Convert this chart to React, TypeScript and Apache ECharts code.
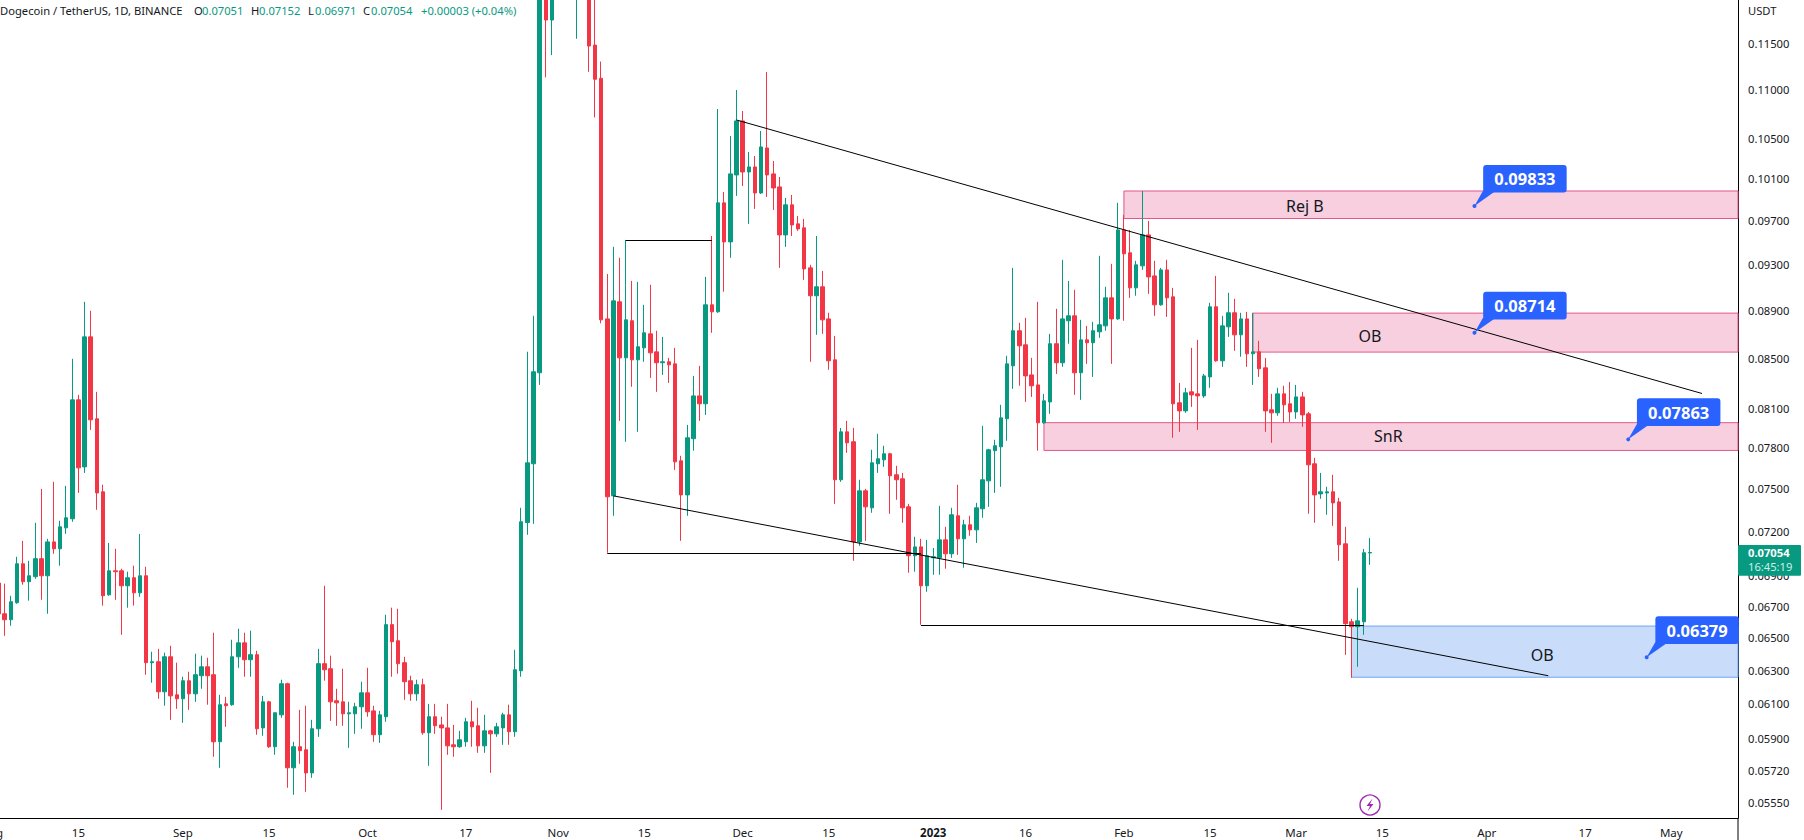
import React, { useEffect, useRef } from "react";
import * as echarts from "echarts";

// rows: [open, high, low, close]
const aug22 = [
[.0685,.0690,.0661,.0665],[.06651,.06846,.06512,.06613],[.06613,.06767,.06575,.06728],[.06722,.07025,.06715,.06978],
[.06978,.07133,.06839,.06859],[.06859,.06998,.06735,.06898],[.06892,.07258,.06878,.07012],[.07012,.07498,.06741,.06898],
[.06898,.07147,.06651,.07126],[.07126,.07549,.07045,.07079],[.07079,.07272,.06965,.07230],[.07223,.07520,.07181,.07293],
[.07286,.08495,.07265,.08167],[.08167,.08206,.07469,.07651],[.07658,.08973,.07614,.08676],[.08676,.08896,.07935,.08012],
[.08020,.08230,.07349,.07469],[.07477,.07528,.06703,.06767],[.06773,.07119,.06767,.06931],[.06931,.07079,.06741,.06925],
[.06931,.06945,.06518,.06832],[.06832,.06925,.06690,.06885],[.06885,.06965,.06703,.06786],[.06786,.07181,.06760,.06898],
[.06898,.06958,.06273,.06346],[.06346,.06413,.06225,.06352],[.06352,.06431,.06130,.06171],[.06171,.06407,.06089,.06382],
[.06382,.06450,.06007,.06147],[.06153,.06346,.06071,.06130],
];
const sep22 = [
[.06130,.06261,.05990,.06237],[.06237,.06291,.06065,.06159],[.06159,.06401,.06112,.06273],[.06267,.06389,.06189,.06321],
[.06321,.06376,.06095,.06267],[.06273,.06531,.05798,.05882],[.05882,.06153,.05737,.06095],[.06100,.06141,.05967,.06089],
[.06095,.06487,.06089,.06382],[.06382,.06556,.06315,.06468],[.06468,.06531,.06261,.06364],[.06364,.06544,.06261,.06395],
[.06395,.06419,.05922,.05956],[.05961,.06147,.05916,.06112],[.06112,.06118,.05848,.05854],[.05854,.06048,.05809,.06048],
[.06036,.06243,.06019,.06219],[.06219,.06225,.05628,.05737],[.05737,.05882,.05590,.05854],[.05854,.06065,.05759,.05832],
[.05837,.06089,.05606,.05709],[.05709,.06007,.05682,.05956],[.05956,.06431,.05910,.06340],[.06340,.06832,.06237,.06303],
[.06309,.06389,.06001,.06112],[.06118,.06189,.05973,.06106],[.06112,.06309,.05973,.06042],[.06042,.06112,.05848,.06048],
[.06042,.06106,.05927,.06083],[.06083,.06231,.05956,.06165],
];
const oct22 = [
[.06165,.06315,.06025,.06054],[.06059,.06089,.05882,.05922],[.05922,.06059,.05876,.06036],[.06025,.06645,.05996,.06582],
[.06582,.06690,.06261,.06475],[.06481,.06683,.06279,.06340],[.06346,.06382,.06124,.06231],[.06237,.06267,.06118,.06159],
[.06159,.06243,.06118,.06213],[.06213,.06249,.05922,.05933],[.05933,.06100,.05748,.06025],[.06025,.06100,.05927,.05973],
[.05978,.06025,.05510,.05961],[.05961,.06100,.05809,.05859],[.05865,.05978,.05798,.05854],[.05854,.05944,.05848,.05893],
[.05882,.06019,.05854,.05996],[.05996,.06118,.05854,.05967],[.05973,.06077,.05820,.05859],[.05859,.06036,.05820,.05944],
[.05944,.05950,.05709,.05927],[.05927,.05990,.05910,.05967],[.05961,.06048,.05865,.06036],[.06036,.06095,.05865,.05939],
[.05939,.06425,.05910,.06303],[.06297,.07363,.06261,.07265],[.07260,.08553,.07175,.07688],[.07681,.08853,.07251,.08390],
[.08382,.1330,.08285,.1262],[.1262,.1290,.1113,.1176],[.1176,.1350,.1137,.1300],
];
const nov22 = [
[.1300,.1330,.1230,.1260],[.1260,.1290,.1215,.1240],[.1240,.1320,.1225,.1300],[.1300,.1400,.1155,.1370],
[.1370,.1390,.1230,.1300],[.1300,.1320,.1119,.1147],[.1148,.1210,.1071,.1111],[.1112,.1130,.0879,.08819],
[.08827,.09216,.07052,.07441],[.07448,.09459,.07307,.08981],[.08973,.09360,.08004,.08503],[.08503,.09522,.07845,.08819],
[.08811,.09155,.08270,.08487],[.08487,.09146,.07920,.08594],[.08585,.08947,.08471,.08710],[.08701,.09120,.08341,.08544],
[.08552,.08727,.08230,.08463],[.08463,.08676,.08365,.08471],[.08471,.08503,.08301,.08446],[.08454,.08585,.07636,.07695],
[.07703,.07740,.07133,.07455],[.07455,.07973,.07307,.07875],[.07868,.08357,.07778,.08198],[.08198,.08438,.08004,.08136],
[.08136,.09190,.08050,.08947],[.08947,.09558,.08710,.08887],[.08887,.10797,.08879,.09867],[.09867,.09971,.09060,.09504],
[.09504,.10521,.09360,.10145],[.10135,.10996,.09933,.10674],
];
const dec22 = [
[.10674,.10777,.10028,.10164],[.10164,.10361,.09670,.10213],[.10213,.10321,.09810,.09961],[.09961,.10572,.09952,.10411],
[.10401,.11188,.09923,.10135],[.10145,.10272,.09800,.10009],[.10019,.10115,.09270,.09568],[.09568,.09914,.09459,.09848],
[.09848,.09942,.09558,.09660],[.09670,.09744,.09605,.09623],[.09633,.09716,.09164,.09261],[.09270,.09297,.08471,.09025],
[.09025,.09558,.08693,.09103],[.09103,.09243,.08701,.08819],[.08827,.08879,.08406,.08479],[.08487,.08684,.07391,.07564],
[.07564,.07950,.07549,.07920],[.07920,.08004,.07762,.07837],[.07845,.07950,.06998,.07126],[.07126,.07564,.07099,.07484],
[.07484,.07498,.07133,.07370],[.07363,.07785,.07328,.07688],[.07681,.07905,.07614,.07718],[.07710,.07815,.07658,.07755],
[.07755,.07762,.07321,.07593],[.07600,.07666,.07420,.07564],[.07571,.07614,.07258,.07363],[.07370,.07391,.06918,.07032],
[.07032,.07161,.06925,.07092],[.07092,.07147,.06581,.06832],[.06832,.07140,.06793,.07032],
];
const jan23 = [
[.07018,.07085,.06905,.07025],[.07018,.07377,.06905,.07140],[.07140,.07230,.06945,.07045],[.07045,.07363,.07018,.07314],
[.07307,.07527,.07038,.07147],[.07147,.07279,.06951,.07244],[.07244,.07307,.07168,.07209],[.07209,.07398,.07119,.07363],
[.07356,.07966,.07293,.07564],[.07556,.07792,.07370,.07785],[.07778,.07860,.07469,.07815],[.07807,.08128,.07513,.08027],
[.08020,.08520,.07852,.08454],[.08438,.09270,.08254,.08727],[.08727,.08794,.08278,.08602],[.08610,.08836,.08151,.08357],
[.08365,.08503,.08190,.08278],[.08285,.08973,.07778,.07989],[.07989,.08214,.07981,.08159],[.08151,.08701,.08058,.08619],
[.08619,.08913,.08373,.08463],[.08463,.09342,.08430,.08827],[.08811,.09155,.08619,.08853],[.08853,.09077,.08206,.08382],
[.08382,.08819,.08167,.08651],[.08651,.08768,.08454,.08627],[.08627,.08802,.08349,.08727],[.08718,.09378,.08668,.08777],
[.08768,.09103,.08727,.09007],[.09007,.09306,.08454,.08827],[.08827,.09867,.08819,.09614],
];
const feb23 = [
[.09614,.09754,.08811,.09396],[.09405,.09614,.09007,.09094],[.09094,.09333,.09025,.09297],[.09288,.09980,.09252,.09568],
[.09568,.09697,.09042,.09190],[.09199,.09333,.08853,.08947],[.08947,.09270,.08939,.09252],[.09252,.09342,.08844,.09007],
[.09016,.09094,.07875,.08136],[.08144,.08301,.07920,.08081],[.08081,.08262,.08066,.08222],[.08230,.08585,.08112,.08206],
[.08214,.08651,.07935,.08198],[.08198,.08373,.08183,.08357],[.08349,.08964,.08262,.08930],[.08930,.09199,.08471,.08479],
[.08479,.08853,.08430,.08768],[.08760,.09051,.08676,.08879],[.08879,.08999,.08561,.08693],[.08693,.08879,.08512,.08827],
[.08827,.08887,.08430,.08536],[.08536,.08879,.08285,.08552],[.08552,.08643,.08349,.08414],[.08422,.08503,.07920,.08081],
[.08089,.08214,.07837,.08066],[.08066,.08262,.08043,.08214],[.08214,.08278,.07989,.08128],[.08136,.08309,.07996,.08073],
];
const mar23 = [
[.08073,.08285,.08020,.08190],[.08190,.08230,.07958,.08050],[.08058,.08073,.07321,.07673],[.07681,.07725,.07258,.07455],
[.07462,.07614,.07427,.07477],[.07469,.07513,.07314,.07477],[.07477,.07600,.07237,.07398],[.07405,.07434,.06998,.07106],
[.07113,.07230,.06394,.06588],[.06600,.06619,.06255,.06569],[.06569,.06819,.06321,.06606],[.06600,.07078,.06518,.07052],
[.07051,.07152,.06971,.07054],
];
const months: [string, number[][]][] = [
  ["2022-08-02", aug22], ["2022-09-01", sep22], ["2022-10-01", oct22], ["2022-11-01", nov22],
  ["2022-12-01", dec22], ["2023-01-01", jan23], ["2023-02-01", feb23], ["2023-03-01", mar23],
];

const priceTicks = [.115,.11,.105,.101,.097,.093,.089,.085,.081,.078,.075,.072,.069,.067,.065,.063,.061,.059,.0572,.0555];
const timeTicks: [string, string][] = [
  ["2022-08-01","Aug"],["2022-08-15","15"],["2022-09-01","Sep"],["2022-09-15","15"],["2022-10-01","Oct"],["2022-10-17","17"],
  ["2022-11-01","Nov"],["2022-11-15","15"],["2022-12-01","Dec"],["2022-12-15","15"],["2023-01-01","{b|2023}"],["2023-01-16","16"],
  ["2023-02-01","Feb"],["2023-02-15","15"],["2023-03-01","Mar"],["2023-03-15","15"],["2023-04-01","Apr"],["2023-04-17","17"],["2023-05-01","May"],
];

const xMinDate = "2022-07-30T00:00:00Z";
const xMaxDate = "2023-05-11T20:24:00Z";
const yMin = 0.05467, yMax = 0.11988;

const pinkZones: [string, number, number][] = [
  ["2023-02-01", 0.0998, 0.0972],
  ["2023-02-22", 0.08876, 0.0855],
  ["2023-01-19", 0.0799, 0.0778],
];
const blueZone: [string, number, number] = ["2023-03-10", 0.06573, 0.06258];
const blackLines: [string, number, string, number][] = [
  ["2022-11-30", 0.10684, "2023-05-06", 0.08217],
  ["2022-11-10", 0.07448, "2023-04-11", 0.06267],
  ["2022-11-12", 0.09522, "2022-11-26", 0.09522],
  ["2022-11-09", 0.0705, "2022-12-30", 0.0705],
  ["2022-12-30", 0.0658, "2023-03-12", 0.0658],
];
const zoneTexts: [string, string, number][] = [
  ["Rej B", "2023-03-02T10:00:00Z", 0.09838],
  ["OB", "2023-03-13T00:00:00Z", 0.0868],
  ["SnR", "2023-03-16T00:00:00Z", 0.07885],
  ["OB", "2023-04-10T00:00:00Z", 0.0639],
];
const callouts: [string, string, number][] = [
  ["0.09833", "2023-03-30T00:00:00Z", 0.09838],
  ["0.08714", "2023-03-30T00:00:00Z", 0.0871],
  ["0.07863", "2023-04-24T00:00:00Z", 0.07863],
  ["0.06379", "2023-04-27T00:00:00Z", 0.06379],
];

const headerParts: [string, number, string][] = [
  ["Dogecoin / TetherUS, 1D, BINANCE", 0, "#131722"],
  ["O", 194, "#131722"], ["0.07051", 202, "#089981"],
  ["H", 251, "#131722"], ["0.07152", 259, "#089981"],
  ["L", 308, "#131722"], ["0.06971", 315, "#089981"],
  ["C", 363, "#131722"], ["0.07054", 371, "#089981"],
  ["+0.00003 (+0.04%)", 421, "#089981"],
];

const UP = "#089981", DOWN = "#F23645", TXT = "#131722", BLUE = "#2962FF";
const FONT = '"Noto Sans", sans-serif';

export default function App() {
  const ref = useRef<HTMLDivElement>(null);
  useEffect(() => {
    document.body.style.margin = "0";
    const chart = echarts.init(ref.current!, undefined, { renderer: "svg" });
    const rows: number[][] = [];
    for (const [start, list] of months) {
      const t0 = Date.parse(start + "T00:00:00Z");
      list.forEach((r, i) => rows.push([t0 + i * 86400000, r[0], r[3], r[2], r[1]]));
    }
    const T = (s: string) => Date.parse(s.length > 10 ? s : s + "T00:00:00Z");
    const xMax = T(xMaxDate);
    const tickLabel = new Map(timeTicks.map(([d, l]) => [T(d), l]));
    const zone = (z: [string, number, number], fill: string, stroke: string) => [
      { coord: [T(z[0]), z[1]], itemStyle: { color: fill, borderColor: stroke, borderWidth: 1 } },
      { coord: [xMax, z[2]] },
    ];
    chart.setOption({
      animation: false,
      backgroundColor: "#ffffff",
      grid: { left: -20, top: 0, width: 1758, height: 818, outerBoundsMode: "none" },
      xAxis: {
        type: "value", min: T(xMinDate), max: xMax,
        splitLine: { show: false },
        axisLine: { lineStyle: { color: "#000", width: 1 } },
        axisTick: { show: false },
        axisLabel: {
          customValues: timeTicks.map(([d]) => T(d)),
          hideOverlap: false, showMinLabel: true, showMaxLabel: true,
          formatter: (v: number) => tickLabel.get(v) ?? "",
          color: TXT, fontFamily: FONT, fontSize: 11.5, margin: 8, align: "center",
          rich: { b: { fontWeight: "bold", color: TXT, fontFamily: FONT, fontSize: 11.5 } },
        },
      },
      yAxis: {
        type: "log", logBase: 10, position: "right", min: yMin, max: yMax,
        splitLine: { show: false },
        axisLine: { show: true, lineStyle: { color: "#000", width: 1 } },
        axisTick: { show: false },
        minorTick: { show: false },
        axisLabel: {
          show: true,
          customValues: priceTicks,
          showMinLabel: true, showMaxLabel: true, hideOverlap: false,
          formatter: (v: number) => (v < 0 ? Math.pow(10, v) : v).toFixed(5),
          color: TXT, fontFamily: FONT, fontSize: 11.2, margin: 10, align: "left",
        },
      },
      series: [
        {
          type: "candlestick", barWidth: 4, encode: { x: 0, y: [1, 2, 3, 4] },
          data: rows,
          itemStyle: { color: UP, color0: DOWN, borderColor: UP, borderColor0: DOWN, borderWidth: 1 },
          markArea: {
            silent: true,
            data: [
              ...pinkZones.map((z) => zone(z, "#F8CFDE", "#E2578C")),
              zone(blueZone, "#C9DDFB", "#6EA5F4"),
            ],
          },
          markLine: {
            silent: true, symbol: "none", animation: false,
            lineStyle: { color: "#000", width: 1, type: "solid" },
            label: { show: false },
            data: blackLines.map((l) => [{ coord: [T(l[0]), l[1]] }, { coord: [T(l[2]), l[3]] }]),
          },
        },
        {
          type: "custom", clip: false, z: 6, silent: true, encode: { x: 0, y: 1 },
          data: zoneTexts.map((z) => [T(z[1]), z[2]]),
          renderItem: (p: any, api: any) => {
            const c = api.coord([api.value(0), api.value(1)]);
            return {
              type: "text",
              style: { text: zoneTexts[p.dataIndex][0], x: c[0], y: c[1], fill: TXT, font: `16px ${FONT}`, textAlign: "center", textVerticalAlign: "middle" },
            };
          },
        },
        {
          type: "custom", clip: false, z: 7, silent: true, encode: { x: 0, y: 1 },
          data: callouts.map((z) => [T(z[1]), z[2]]),
          renderItem: (p: any, api: any) => {
            const c = api.coord([api.value(0), api.value(1)]);
            const x = c[0] + 8.7, y = c[1] - 41, w = 83.5, h = 27.7;
            return {
              type: "group",
              children: [
                { type: "polygon", shape: { points: [[x, y + h - 2], [x + 13, y + h - 2], [c[0], c[1]]] }, style: { fill: BLUE } },
                { type: "circle", shape: { cx: c[0], cy: c[1], r: 2 }, style: { fill: BLUE } },
                { type: "rect", shape: { x, y, width: w, height: h, r: 3 }, style: { fill: BLUE } },
                { type: "text", style: { text: callouts[p.dataIndex][0], x: x + w / 2, y: y + h / 2, fill: "#fff", font: `bold 16.5px ${FONT}`, textAlign: "center", textVerticalAlign: "middle" } },
              ],
            };
          },
        },
      ],
      graphic: [
        ...headerParts.map(([t, x, c]) => ({ type: "text", x, y: 5, z: 100, style: { text: t, fill: c, font: `11.2px ${FONT}` } })),
        { type: "text", x: 1748, y: 5, z: 100, style: { text: "USDT", fill: TXT, font: `11.2px ${FONT}` } },
        { type: "line", z: 100, shape: { x1: 1738, y1: 818, x2: 1738, y2: 840 }, style: { stroke: "#000", lineWidth: 1 } },
        { type: "rect", z: 100, shape: { x: 1738, y: 545, width: 63, height: 30.7, r: 1 }, style: { fill: UP } },
        { type: "text", x: 1748, y: 547, z: 101, style: { text: "0.07054", fill: "#fff", font: `bold 11.2px ${FONT}` } },
        { type: "text", x: 1748, y: 561, z: 101, style: { text: "16:45:19", fill: "#cfeee6", font: `11.2px ${FONT}` } },
        { type: "circle", z: 100, shape: { cx: 1370, cy: 805, r: 10 }, style: { fill: "#fff", stroke: "#9C27B0", lineWidth: 1.4 } },
        { type: "polygon", z: 101, shape: { points: [[1372.5, 798.5], [1366.5, 806], [1370, 806], [1367.5, 811.5], [1373.5, 804], [1370, 804]] }, style: { fill: "#9C27B0" } },
      ],
    });
    return () => chart.dispose();
  }, []);
  return <div ref={ref} style={{ width: 1804, height: 840 }} />;
}
